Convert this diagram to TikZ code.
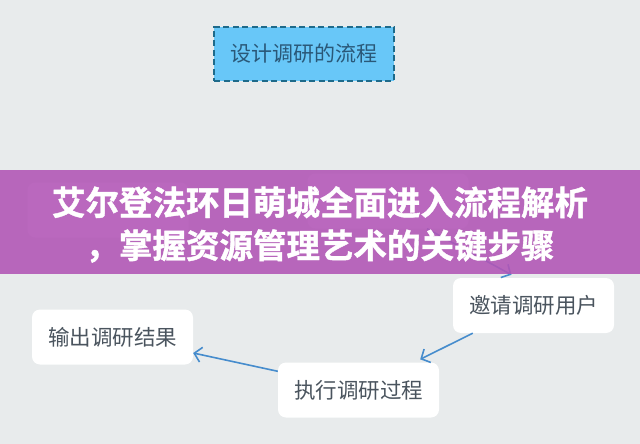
\documentclass[tikz,border=0pt]{standalone}
\usepackage{fontspec}
\newfontfamily\cjk{Noto Sans CJK SC}
\newfontfamily\cjkheavy{Noto Sans CJK SC Bold}[FakeBold=1.2]
\usetikzlibrary{arrows.meta,positioning}
\definecolor{bgcol}{RGB}{232,235,236}
\definecolor{skyfill}{RGB}{104,199,248}
\definecolor{skyline}{RGB}{30,106,138}
\definecolor{skytext}{RGB}{42,88,120}
\definecolor{steptext}{RGB}{74,84,94}
\definecolor{flowblue}{RGB}{70,140,205}
\definecolor{bannercol}{RGB}{178,86,182}
\tikzset
{
    titlebox/.style = {rectangle, draw=skyline, fill=skyfill, dashed, dash pattern=on 6pt off 3.5pt, line width=2.2pt, minimum width=180pt, minimum height=54pt, text=skytext, font=\cjk\fontsize{21}{24}\selectfont},
    stepbox/.style  = {rectangle, rounded corners=8pt, fill=white, minimum width=161pt, minimum height=55pt, text=steptext, font=\cjk\fontsize{21.5}{24}\selectfont},
    flow/.style     = {draw=flowblue, line width=1.6pt, -{Straight Barb[length=7pt,width=15pt,line width=1.6pt]}}
}

\begin{document}
\begin{tikzpicture}[x=1pt,y=-1pt]
\useasboundingbox[fill=bgcol] (0,0) rectangle (640,444);
\node (design)	[titlebox]	at (304,54)		{设计调研的流程};
\node (method)	[stepbox]	at (108,210)	{};
\node (plan)	[stepbox]	at (388,201)	{};
\node (invite)	[stepbox]	at (533.5,305.5)	{邀请调研用户};
\node (execute)	[stepbox]	at (358.5,390)	{执行调研过程};
\node (output)	[stepbox]	at (112.5,337)	{输出调研结果};

\path
([xshift=39pt]plan.south)				edge[flow]	node {} ([xshift=-22pt,yshift=3pt]invite.north)
([xshift=20pt]invite.south west)		edge[flow]	node {} ([xshift=-19pt,yshift=3pt]execute.north east)
([yshift=-9pt]execute.north west)		edge[flow]	node {} ([yshift=-16pt]output.east);

% banner over the flow
\fill[bannercol,fill opacity=0.89] (0,170) rectangle (640,274);
\node (banner) [align=center, text=white, font=\cjkheavy\fontsize{33.5}{43}\selectfont] at (320,224.5)
	{艾尔登法环日萌城全面进入流程解析\\，掌握资源管理艺术的关键步骤};
\end{tikzpicture}
\end{document}
